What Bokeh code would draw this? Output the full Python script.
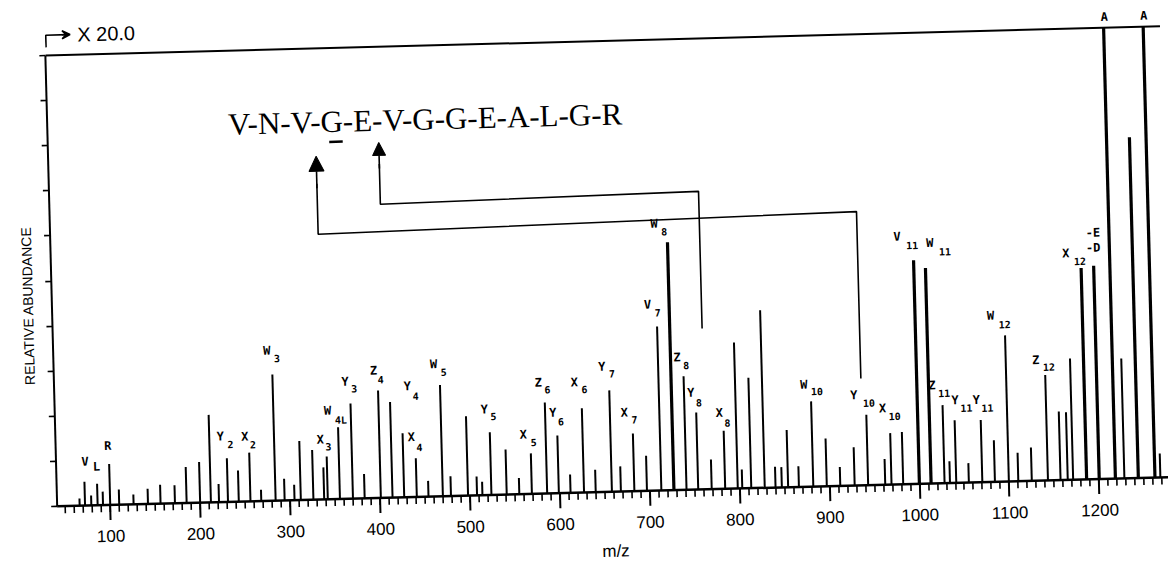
from bokeh.plotting import figure
from bokeh.models import (ColumnDataSource, LabelSet, Label, Span, Arrow, NormalHead,
                          VeeHead, FixedTicker, Range1d, Title)
from bokeh.embed import file_html
from bokeh.resources import INLINE
from bokeh.core.properties import value

# ---------------- data ----------------
peak_mz = [66, 72, 79, 86, 92, 100, 110, 126, 142, 156, 172, 185, 200, 212, 221, 231, 243,
           256, 268, 284, 294, 305, 312, 326, 338, 342, 355.5, 370, 383, 401, 414, 427, 441,
           454, 470, 479, 498, 508, 514, 524, 541, 555, 569, 586, 599, 612, 627, 640, 658,
           668, 683, 697, 713, 727, 741, 754, 769, 784, 798, 803, 813, 828, 840, 847, 854,
           866, 882, 897, 912, 928, 943, 962, 969, 982, 1000, 1013, 1028, 1034, 1041, 1055,
           1070, 1084, 1099.5, 1110, 1125, 1143, 1157, 1165, 1171, 1186, 1200, 1218, 1228,
           1243.5, 1262, 1268]
peak_int = [1.6, 5.3, 2.2, 4.8, 3.0, 9.1, 3.4, 2.2, 3.4, 4.2, 4.0, 8.0, 9.0, 19.4, 4.0, 9.7,
            6.9, 10.8, 2.5, 28.0, 4.8, 3.4, 13.1, 11.0, 7.1, 9.5, 15.9, 21.1, 5.4, 23.8, 21.2,
            14.2, 8.6, 3.5, 24.7, 4.4, 17.6, 4.2, 3.0, 13.9, 10.0, 3.6, 9.0, 20.2, 12.8, 4.1,
            18.7, 5.0, 22.5, 5.6, 12.8, 7.8, 36.4, 55.0, 25.2, 17.1, 6.6, 12.9, 32.4, 4.2,
            24.5, 39.4, 4.6, 4.5, 12.7, 4.6, 18.9, 10.6, 4.2, 8.5, 15.6, 5.7, 11.4, 11.6, 49.6,
            47.8, 17.3, 4.8, 13.9, 4.3, 13.8, 9.2, 32.4, 6.3, 7.4, 23.4, 15.2, 15.0, 26.9,
            46.9, 47.3, 100, 26.6, 75.6, 100, 5.3]

label_main = ["V", "L", "R", "Y", "X", "W", "X", "W", "Y", "Z", "Y", "X", "W", "Y", "X",
              "Z", "Y", "X", "Y", "X", "V", "W", "Z", "Y", "X", "W", "Y", "X", "V", "W",
              "Z", "Y", "Y", "W", "Z", "X", "-E", "-D", "A", "A"]
label_sub = ["", "", "", "2", "2", "3", "3", "4L", "3", "4", "4", "4", "5", "5", "5",
             "6", "6", "6", "7", "7", "7", "8", "8", "8", "8", "10", "10", "10", "11", "11",
             "11", "11", "11", "12", "12", "12", "", "", "", ""]
label_mz = [72, 86, 100, 231, 256, 284, 342, 355.5, 370, 401, 427, 441, 470, 524, 569,
            586, 599, 627, 658, 683, 713, 727, 741, 754, 784, 882, 943, 969, 1000, 1013,
            1028, 1041, 1070, 1099.5, 1143, 1186, 1200, 1200, 1218, 1262]

x_ticks = [100, 200, 300, 400, 500, 600, 700, 800, 900, 1000, 1100, 1200]
y_ticks = [0, 10, 20, 30, 40, 50, 60, 70, 80, 90, 100]
sequence = "V-N-V-G-E-V-G-G-E-A-L-G-R"
scale_note = "X 20.0"
x_title = "m/z"
y_title = "RELATIVE ABUNDANCE"

# ---------------- layout / style ----------------
# label offsets in screen px: (dx letter, dy letter, dx subscript, dy subscript), dy up
label_layout = [(1, 20, 0, 0), (0, 17, 0, 0), (-1, 18, 0, 0), (-6, 22, 4, 14), (-4, 16, 4, 8),
                (-5, 24, 5, 16), (-6, 17, 2, 10), (-10, 17, 3, 7), (-5, 22, 4, 15),
                (-4, 20, 3, 11), (6, 47, 14, 37), (-4, 21, 4, 11), (-6, 21, 4, 13),
                (-5, 23, 4, 16), (-7, 19, 3, 11), (-6, 20, 3, 13), (-4, 23, 4, 14),
                (-7, 26, 3, 19), (-7, 24, 3, 17), (-8, 21, 2, 14), (-9, 22, 1, 14),
                (-13, 19, -3, 11), (-6, 19, 3, 11), (-5, 20, 3, 10), (-4, 18, 4, 8),
                (-7, 17, 6, 10), (-12, 20, 3, 12), (-7, 25, 5, 17), (-16, 24, -1, 15),
                (5, 25, 20, 16), (-10, 20, 2, 12), (1, 20, 12, 12), (-4, 20, 7, 12),
                (-14, 20, 0, 11), (-9, 15, 4, 8), (-15, 15, -1, 7), (0, 33, 0, 0),
                (0, 18, 0, 0), (1, 11, 0, 0), (1, 11, 0, 0)]

FW, FH = 1115, 492               # frame size in px
X0 = 41.0
X1 = X0 + FW / 0.8994            # m/z at the frame edges
Y1 = FH / 4.51                   # room above the 100 line for the "X 20.0" note
p = figure(frame_width=FW, frame_height=FH, x_range=Range1d(X0, X1), y_range=Range1d(0, Y1),
           output_backend="svg", toolbar_location=None,
           min_border_left=51, min_border_right=2, min_border_top=0, min_border_bottom=73)
p.outline_line_color = None
p.xgrid.visible = False
p.ygrid.visible = False
p.background_fill_color = "white"
p.border_fill_color = "white"
# the scanned original is tilted by about 1.5 degrees
p.stylesheets = [":host { transform: rotate(-1.5deg); }"]

# axes
xa = p.xaxis[0]
xa.ticker = FixedTicker(ticks=x_ticks, minor_ticks=list(range(50, 1280, 10)))
xa.axis_line_width = 2.5
xa.major_tick_out = 15
xa.major_tick_in = 0
xa.minor_tick_out = 7
xa.minor_tick_in = 0
xa.major_tick_line_width = 2
xa.minor_tick_line_width = 1.6
xa.major_label_standoff = 10
xa.major_label_text_font = "Liberation Sans"
xa.major_label_text_font_size = "17px"
xa.major_label_text_color = "black"
xa.axis_label = x_title
xa.axis_label_standoff = 10
xa.axis_label_text_font = "Liberation Sans"
xa.axis_label_text_font_size = "17px"
xa.axis_label_text_font_style = "normal"
xa.axis_label_text_color = "black"

ya = p.yaxis[0]
ya.ticker = FixedTicker(ticks=[], minor_ticks=y_ticks)
ya.bounds = (0, 100)
ya.axis_line_width = 2
ya.minor_tick_out = 6
ya.minor_tick_in = 0
ya.minor_tick_line_width = 1.6

p.add_layout(Title(text=y_title, align="left", offset=122, standoff=20,
                   text_font="Liberation Sans", text_font_size="14px",
                   text_font_style="normal", text_color="black"), "left")

p.add_layout(Span(location=100, dimension="width", line_color="black", line_width=2))

# peaks
widths = [3.2 if v >= 40 else 2.0 for v in peak_int]
src = ColumnDataSource(dict(mz=peak_mz, h=peak_int, w=widths))
p.segment(x0="mz", y0=0, x1="mz", y1="h", source=src, line_color="black", line_width="w")

# peak labels
lookup = dict(zip(peak_mz, peak_int))
lab = ColumnDataSource(dict(
    x=label_mz, y=[lookup[m] for m in label_mz], main=label_main,
    dx=[t[0] for t in label_layout], dy=[t[1] for t in label_layout]))
keep = [i for i, s in enumerate(label_sub) if s]
sub = ColumnDataSource(dict(
    x=[label_mz[i] for i in keep], y=[lookup[label_mz[i]] for i in keep],
    sub=[label_sub[i] for i in keep],
    dx=[label_layout[i][2] for i in keep], dy=[label_layout[i][3] for i in keep]))
p.add_layout(LabelSet(x="x", y="y", text="main", x_offset="dx", y_offset="dy", source=lab,
                      text_align="center", text_baseline="middle",
                      text_font=value("DejaVu Sans Mono"), text_font_style="bold",
                      text_font_size="12px", text_color="black"))
p.add_layout(LabelSet(x="x", y="y", text="sub", x_offset="dx", y_offset="dy", source=sub,
                      text_align="center", text_baseline="middle",
                      text_font=value("DejaVu Sans Mono"), text_font_style="bold",
                      text_font_size="10px", text_color="black"))

# sequence and cleavage arrows
p.add_layout(Label(x=242, y=83.7, text=sequence, text_align="left", text_baseline="middle",
                   text_font="Liberation Serif", text_font_size="31px", text_color="black"))
p.line(x=[354, 369], y=[79.2, 79.2], line_color="black", line_width=2.5)
p.line(x=[938, 938, 339, 339], y=[23.7, 60.7, 58.8, 70], line_color="black", line_width=1.6)
p.add_layout(Arrow(x_start=339, y_start=69, x_end=339, y_end=76.1, line_width=1.6,
                   end=NormalHead(size=15, fill_color="black", line_color="black")))
p.line(x=[763, 763, 409, 409], y=[35.7, 66.1, 65.1, 74], line_color="black", line_width=1.6)
p.add_layout(Arrow(x_start=409, y_start=73, x_end=409, y_end=78.8, line_width=1.6,
                   end=NormalHead(size=13, fill_color="black", line_color="black")))

# "-> X 20.0" scale note above the 100 line
p.line(x=[42, 42, 66], y=[101.8, 104.5, 104.5], line_color="black", line_width=1.6)
p.add_layout(Arrow(x_start=60, y_start=104.5, x_end=69, y_end=104.5, line_width=1.6,
                   end=VeeHead(size=8, line_width=1.6)))
p.add_layout(Label(x=77, y=104.5, text=scale_note, text_align="left", text_baseline="middle",
                   text_font="Liberation Sans", text_font_size="20px", text_color="black"))

open("out.html", "w").write(file_html(p, INLINE))
